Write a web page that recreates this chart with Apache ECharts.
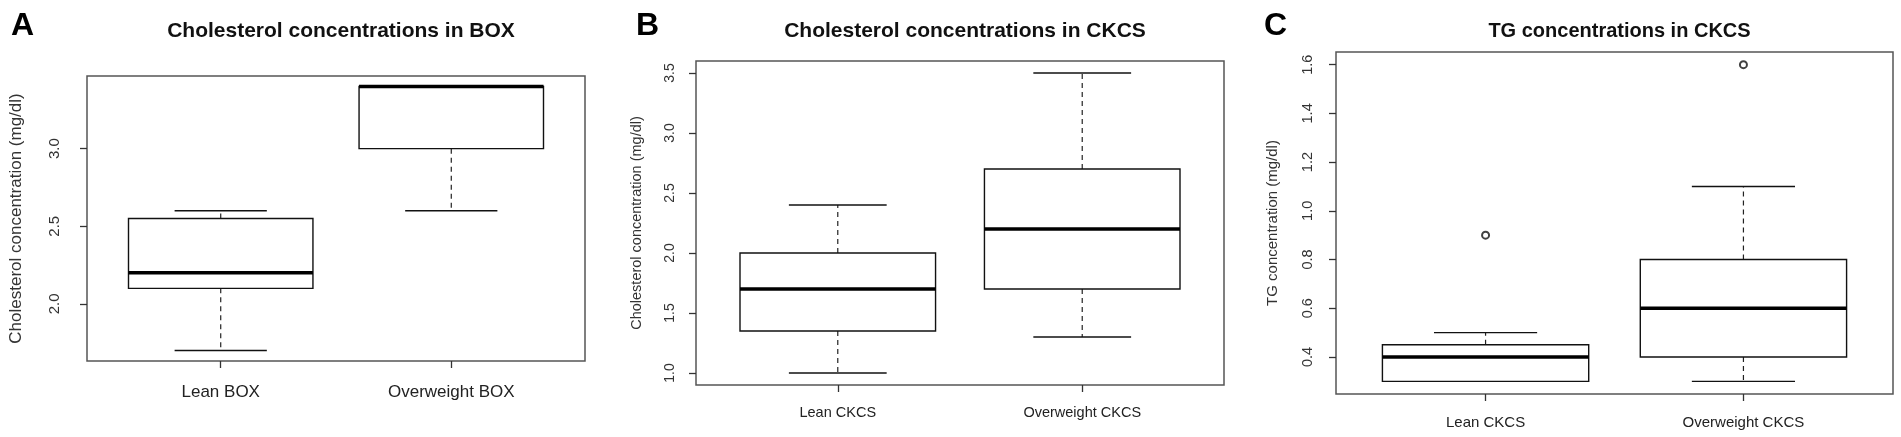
<!DOCTYPE html>
<html>
<head>
<meta charset="utf-8">
<title>Cholesterol and TG concentrations</title>
<script src="https://cdn.jsdelivr.net/npm/echarts@6/dist/echarts.min.js"></script>
<style>
  html, body { margin: 0; padding: 0; background: #fff; }
  #main { width: 1901px; height: 437px; }
</style>
</head>
<body>
<div id="main"></div>
<script>
// group labels
var groupsBox = ['Lean BOX', 'Overweight BOX'];
var groupsCkcs = ['Lean CKCS', 'Overweight CKCS'];

// five-number summaries: [lower whisker, Q1, median, Q3, upper whisker]
var cholBoxLean = [1.7, 2.1, 2.2, 2.55, 2.6];
var cholBoxOver = [2.6, 3.0, 3.4, 3.4, 3.4];
var cholCkcsLean = [1.0, 1.35, 1.7, 2.0, 2.4];
var cholCkcsOver = [1.3, 1.7, 2.2, 2.7, 3.5];
var tgCkcsLean = [0.3, 0.3, 0.4, 0.45, 0.5];
var tgCkcsOver = [0.3, 0.4, 0.6, 0.8, 1.1];

// outliers [group index (1-based), value]
var tgOutliers = [[1, 0.9], [2, 1.6]];

// y tick labels
var ticksA = [2.0, 2.5, 3.0];
var ticksB = [1.0, 1.5, 2.0, 2.5, 3.0, 3.5];
var ticksC = [0.4, 0.6, 0.8, 1.0, 1.2, 1.4, 1.6];

var FONT = "'Liberation Sans', Arial, sans-serif";
var BOX_WIDTH = 0.8;

// R style axis range: data range plus 4% each side
function rRange(arrs) {
  var all = [].concat.apply([], arrs);
  var lo = Math.min.apply(null, all), hi = Math.max.apply(null, all);
  var pad = (hi - lo) * 0.04;
  return [lo - pad, hi + pad];
}

function boxItems(lean, over) {
  return [[1].concat(lean), [2].concat(over)];
}

function renderBox(params, api) {
  var x = api.value(0);
  var low = api.coord([x, api.value(1)]);
  var q1 = api.coord([x, api.value(2)]);
  var med = api.coord([x, api.value(3)]);
  var q3 = api.coord([x, api.value(4)]);
  var high = api.coord([x, api.value(5)]);
  var w = api.size([BOX_WIDTH, 0])[0];
  var cx = low[0];
  var line = { stroke: '#111', lineWidth: 1.4 };
  var dash = { stroke: '#222', lineWidth: 1.2, lineDash: [5, 4] };
  return {
    type: 'group',
    children: [
      { type: 'line', shape: { x1: cx, y1: q3[1], x2: cx, y2: high[1] }, style: dash },
      { type: 'line', shape: { x1: cx, y1: q1[1], x2: cx, y2: low[1] }, style: dash },
      { type: 'line', shape: { x1: cx - w / 4, y1: high[1], x2: cx + w / 4, y2: high[1] }, style: line },
      { type: 'line', shape: { x1: cx - w / 4, y1: low[1], x2: cx + w / 4, y2: low[1] }, style: line },
      { type: 'rect', shape: { x: cx - w / 2, y: q3[1], width: w, height: q1[1] - q3[1] },
        style: { fill: '#fff', stroke: '#111', lineWidth: 1.4 } },
      { type: 'line', shape: { x1: cx - w / 2, y1: med[1], x2: cx + w / 2, y2: med[1] },
        style: { stroke: '#000', lineWidth: 3.5 } }
    ]
  };
}

var panels = [
  { grid: { left: 87, top: 76, width: 498, height: 285 }, title: 'Cholesterol concentrations in BOX',
    titleSize: 21, letter: 'A', letterX: 6, groups: groupsBox, lean: cholBoxLean, over: cholBoxOver,
    outliers: [], ticks: ticksA, yName: 'Cholesterol concentration (mg/dl)', nameSize: 17, nameGap: 62,
    tickSize: 15, tickMargin: 25, xSize: 17, xMargin: 23 },
  { grid: { left: 696, top: 61, width: 528, height: 324 }, title: 'Cholesterol concentrations in CKCS',
    titleSize: 21, letter: 'B', letterX: 631, groups: groupsCkcs, lean: cholCkcsLean, over: cholCkcsOver,
    outliers: [], ticks: ticksB, yName: 'Cholesterol concentration (mg/dl)', nameSize: 14.5, nameGap: 52,
    tickSize: 14, tickMargin: 19, xSize: 14.5, xMargin: 20 },
  { grid: { left: 1336, top: 52, width: 557, height: 342 }, title: 'TG concentrations in CKCS',
    titleSize: 20, letter: 'C', letterX: 1259, groups: groupsCkcs, lean: tgCkcsLean, over: tgCkcsOver,
    outliers: tgOutliers, ticks: ticksC, yName: 'TG concentration (mg/dl)', nameSize: 15, nameGap: 56,
    tickSize: 14.5, tickMargin: 21, xSize: 15, xMargin: 21 }
];

var option = { animation: false, backgroundColor: '#fff', title: [], grid: [], xAxis: [], yAxis: [], series: [] };

panels.forEach(function (p, i) {
  var outVals = p.outliers.map(function (o) { return o[1]; });
  var yr = rRange([p.lean, p.over, outVals]);
  var g = p.grid;
  option.grid.push({ left: g.left, top: g.top, width: g.width, height: g.height,
    show: true, borderColor: '#555', borderWidth: 1.5, backgroundColor: 'transparent' });
  option.title.push({ text: p.title, left: g.left + g.width / 2, top: 16, textAlign: 'center',
    textStyle: { fontFamily: FONT, fontSize: p.titleSize, fontWeight: 'bold', color: '#111' } });
  option.title.push({ text: p.letter, left: p.letterX, top: 5,
    textStyle: { fontFamily: FONT, fontSize: 32, fontWeight: 'bold', color: '#000' } });
  var groups = p.groups;
  option.xAxis.push({
    type: 'value', gridIndex: i, min: 0.42, max: 2.58,
    axisLine: { show: false }, splitLine: { show: false },
    axisTick: { show: true, customValues: [1, 2], length: 7, lineStyle: { color: '#333', width: 1.3 } },
    axisLabel: { customValues: [1, 2], margin: p.xMargin, color: '#222', fontFamily: FONT, fontSize: p.xSize,
      formatter: function (v) { return groups[Math.round(v) - 1] || ''; } }
  });
  option.yAxis.push({
    type: 'value', gridIndex: i, min: yr[0], max: yr[1],
    name: p.yName, nameLocation: 'middle', nameGap: p.nameGap, nameRotate: 90,
    nameTextStyle: { fontFamily: FONT, fontSize: p.nameSize, color: '#333' },
    axisLine: { show: false }, splitLine: { show: false },
    axisTick: { show: true, customValues: p.ticks, length: 7, lineStyle: { color: '#333', width: 1.3 } },
    axisLabel: { customValues: p.ticks, rotate: 90, margin: p.tickMargin, color: '#333',
      fontFamily: FONT, fontSize: p.tickSize, formatter: function (v) { return v.toFixed(1); } }
  });
  option.series.push({
    type: 'custom', xAxisIndex: i, yAxisIndex: i,
    renderItem: renderBox, data: boxItems(p.lean, p.over), silent: true
  });
  if (p.outliers.length) {
    option.series.push({
      type: 'scatter', xAxisIndex: i, yAxisIndex: i, data: p.outliers,
      symbol: 'emptyCircle', symbolSize: 7, itemStyle: { color: '#111', borderWidth: 1.2 }, silent: true
    });
  }
});

var chart = echarts.init(document.getElementById('main'));
chart.setOption(option);
window.onresize = function () { chart.resize(); };
</script>
</body>
</html>
